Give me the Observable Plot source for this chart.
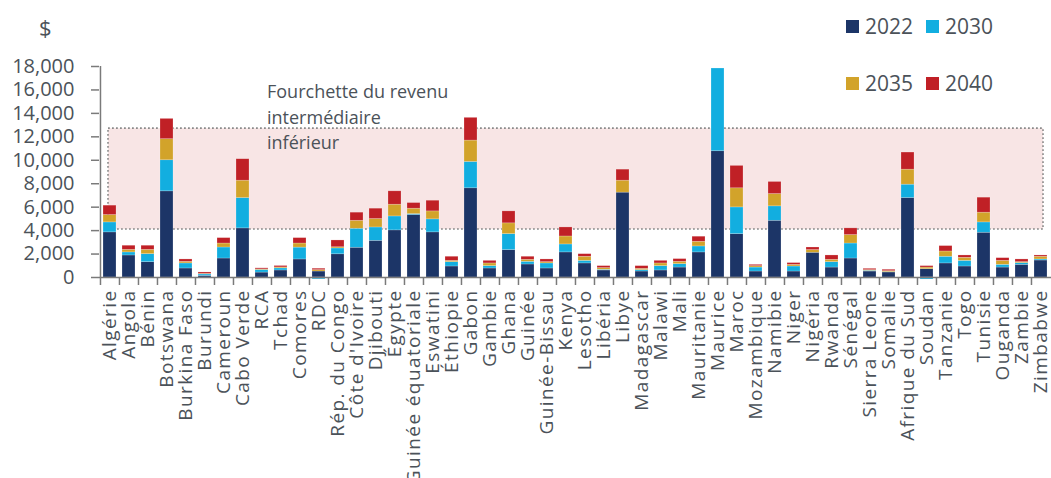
<!DOCTYPE html>
<html>
<head>
<meta charset="utf-8">
<script src="https://cdn.jsdelivr.net/npm/d3@7"></script>
<script src="https://cdn.jsdelivr.net/npm/@observablehq/plot@0.6"></script>
<style>
  html, body { margin: 0; padding: 0; background: #fff; }
  #wrap { position: relative; width: 1051px; height: 478px; font-family: "Open Sans", sans-serif; color: #4b5259; overflow: hidden; }
  #wrap svg { position: absolute; left: 0; top: 0; }
  #wrap svg g[aria-label="x-axis tick label"] text { letter-spacing: 1.4px; }
  .unit { position: absolute; left: 39px; top: 12px; font-size: 22px; }
  .leg { position: absolute; display: flex; align-items: center; font-size: 21px; line-height: 1; }
  .leg span.sw { display: inline-block; width: 13px; height: 13px; margin-right: 6px; }
</style>
</head>
<body>
<div id="wrap"></div>
<script>
const countries = ["Algérie","Angola","Bénin","Botswana","Burkina Faso","Burundi","Cameroun","Cabo Verde","RCA","Tchad","Comores","RDC","Rép. du Congo","Côte d'Ivoire","Djibouti","Égypte","Guinée équatoriale","Eswatini","Éthiopie","Gabon","Gambie","Ghana","Guinée","Guinée-Bissau","Kenya","Lesotho","Libéria","Libye","Madagascar","Malawi","Mali","Mauritanie","Maurice","Maroc","Mozambique","Namibie","Niger","Nigéria","Rwanda","Sénégal","Sierra Leone","Somalie","Afrique du Sud","Soudan","Tanzanie","Togo","Tunisie","Ouganda","Zambie","Zimbabwe"];

const years = ["2022", "2030", "2035", "2040"];
const colors = ["#1c3567", "#12aee0", "#d2a32a", "#c02026"];

// segment heights of each stacked bar (as drawn)
const seg2022 = [3850,1880,1310,7350,770,140,1620,4190,420,600,1540,510,1980,2540,3130,4020,5330,3850,940,7610,770,2340,1110,770,2140,1200,600,7240,510,600,850,2140,10770,3700,510,4840,510,2110,850,1620,510,430,6780,710,1200,940,3820,850,1080,1450];
const seg2030 = [850,260,680,2650,430,120,940,2590,220,180,1010,-160,500,1620,1140,1190,80,1110,370,2250,200,1360,230,430,680,220,60,0,120,370,290,510,7060,2280,340,1230,430,0,460,1280,60,30,1140,-170,570,480,880,230,150,90];
const seg2035 = [630,220,370,1800,140,50,340,1480,50,80,350,120,100,680,720,1000,460,680,110,1820,230,920,170,110,680,350,140,1020,110,230,200,400,0,1630,120,1050,140,230,200,720,60,80,1280,140,450,260,830,340,80,230];
const seg2040 = [800,350,350,1730,200,120,460,1830,90,120,460,120,580,690,880,1140,480,910,350,1940,220,1020,260,230,770,220,170,940,230,220,230,430,0,1910,110,1030,150,220,370,570,110,120,1460,120,460,200,1280,230,230,110];

const incomeBand = [4100, 12700];
const bandLabel = "Fourchette du revenu\nintermédiaire\ninférieur";
const yTicks = [0,2000,4000,6000,8000,10000,12000,14000,16000,18000];

const segments = [seg2022, seg2030, seg2035, seg2040];
const data = [];
years.forEach((yr, j) => countries.forEach((c, i) => data.push({country: c, year: yr, value: segments[j][i]})));

const step = (1051 - 99) / countries.length;

const chart = Plot.plot({
  width: 1051,
  height: 478,
  marginLeft: 99,
  marginRight: 0,
  marginTop: 66,
  marginBottom: 201,
  style: {fontFamily: "Open Sans, sans-serif", color: "#4b5259", background: "transparent", overflow: "visible"},
  x: {domain: countries, paddingInner: 0.3, paddingOuter: 0.15, axis: null},
  y: {domain: [0, 18000], axis: null},
  color: {domain: years, range: colors},
  marks: [
    Plot.rect([{lo: incomeBand[0], hi: incomeBand[1]}], {
      y1: "lo", y2: "hi", insetLeft: 9, insetRight: 8,
      fill: "#f8e5e5", stroke: "#8a8a8a", strokeWidth: 1.6, strokeDasharray: "1.8,2.2"
    }),
    Plot.text([{c: "RCA", v: 13800, t: bandLabel}], {
      x: "c", y: "v", text: "t", textAnchor: "start", lineAnchor: "middle", dx: 5,
      fontSize: 18, lineHeight: 1.42, fill: "#4b5259"
    }),
    Plot.barY(data, {x: "country", y: "value", fill: "year", stroke: "#ffffff", strokeOpacity: 0.35, strokeWidth: 0.6}),
    Plot.ruleY([0], {stroke: "#7a7a7a", strokeWidth: 1.5}),
    Plot.ruleX([countries[0]], {y1: 0, y2: 18000, dx: -step / 2, stroke: "#7a7a7a", strokeWidth: 1.5}),
    Plot.axisY({ticks: yTicks, tickSize: 8, tickPadding: 17, tickFormat: d3.format(","), fontSize: 20, stroke: "#7a7a7a", strokeWidth: 1.5, fill: "#4b5259"}),
    Plot.axisX({tickSize: 8, tickFormat: () => "", dx: -step / 2, stroke: "#7a7a7a", strokeWidth: 1.5}),
    Plot.axisX({tickSize: 0, tickPadding: 12, tickRotate: -90, fontSize: 19, fill: "#4b5259"})
  ]
});

const wrap = document.getElementById("wrap");
wrap.appendChild(chart);

const unit = document.createElement("div");
unit.className = "unit";
unit.textContent = "$";
wrap.appendChild(unit);

years.forEach((yr, i) => {
  const d = document.createElement("div");
  d.className = "leg";
  d.style.left = (846 + (i % 2) * 80) + "px";
  d.style.top = (16 + Math.floor(i / 2) * 57) + "px";
  d.innerHTML = `<span class="sw" style="background:${colors[i]}"></span><span>${yr}</span>`;
  wrap.appendChild(d);
});
</script>
</body>
</html>
